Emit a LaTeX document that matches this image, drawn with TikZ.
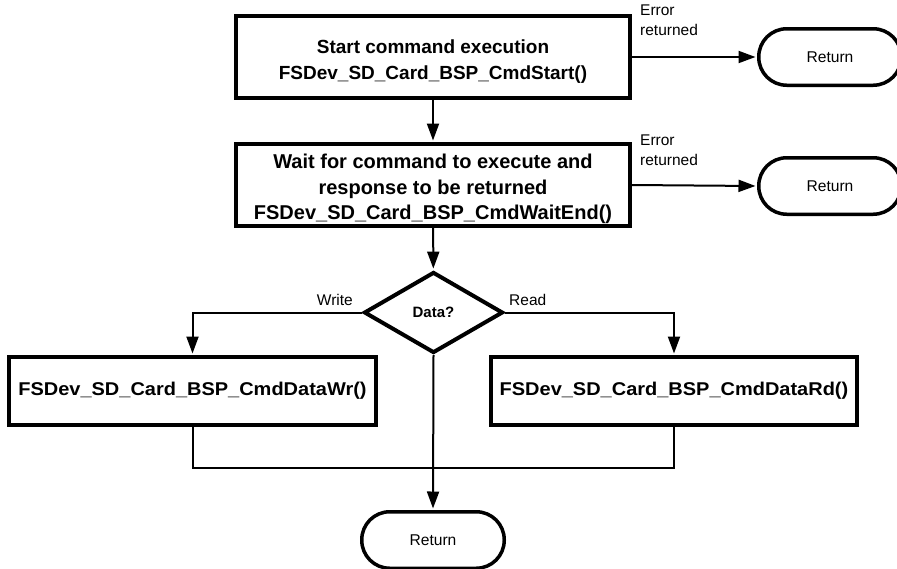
\documentclass[tikz,border=0pt]{standalone}
\usepackage{fontspec}
\setmainfont{Liberation Sans}
\newfontfamily\botfont[FakeStretch=1.08]{Liberation Sans}
\usetikzlibrary{shapes.geometric,arrows.meta}
\newcommand{\boxlines}[2]{\raisebox{#1}[\height][\depth]{\begin{tabular}{@{}c@{}}#2\end{tabular}}}
\begin{document}
\begin{tikzpicture}[x=1pt,y=-1pt,
  topbox/.style={draw, line width=4pt, rectangle, inner sep=0pt,
    minimum width=394pt, minimum height=82pt},
  botbox/.style={draw, line width=4pt, rectangle, inner sep=0pt, align=center,
    minimum height=68pt,
    font=\botfont\fontsize{18.5}{24}\selectfont\bfseries},
  decision/.style={draw, diamond, line width=4pt, inner sep=0pt,
    minimum width=139pt, minimum height=81pt,
    font=\fontsize{15}{18}\selectfont\bfseries},
  terminal/.style={draw, rectangle, rounded corners=28pt, line width=3.5pt,
    minimum width=142.5pt, minimum height=56.5pt, inner sep=0pt,
    font=\fontsize{15.6}{18}\selectfont},
  lbl/.style={inner sep=0pt, font=\fontsize{15.5}{20}\selectfont, align=left},
  conn/.style={line width=2pt},
  arr/.style={conn, -{Triangle[length=17pt,width=12pt]}, shorten >=1.5pt}
]
\useasboundingbox (0,0) rectangle (897,568);

\node[topbox, font=\fontsize{19}{26}\selectfont\bfseries] (b1) at (433,57)
  {\boxlines{-4pt}{Start command execution\\FSDev\_SD\_Card\_BSP\_CmdStart()}};
\node[topbox, font=\fontsize{20}{25.5}\selectfont\bfseries] (b2) at (433,185)
  {\boxlines{-4pt}{Wait for command to execute and\\response to be returned\\FSDev\_SD\_Card\_BSP\_CmdWaitEnd()}};
\node[decision] (d) at (433.5,312.5) {Data?};
\node[botbox, minimum width=367pt] (lb) at (192.5,391) {FSDev\_SD\_Card\_BSP\_CmdDataWr()};
\node[botbox, minimum width=366pt] (rb) at (674,391) {FSDev\_SD\_Card\_BSP\_CmdDataRd()};
\node[terminal] (r1) at (830,57) {Return};
\node[terminal] (r2) at (830,186) {Return};
\node[terminal] (r3) at (433,540) {Return};

\node[lbl, anchor=north west] (e1) at (640,5) {Error\\returned};
\node[lbl, anchor=north west] (e2) at (640,135) {Error\\returned};
\node[lbl, anchor=base east] (w) at (353,305) {Write};
\node[lbl, anchor=base west] (rd) at (509,305) {Read};

\coordinate (m) at (433,468);

\draw[arr] (b1) -- (b2);
\draw[arr] (b1.east) -- (r1.west);
\draw[arr] (b2.east) -- (r2.west);
\draw[arr] (b2) -- (d);
\draw[arr] (d.west) -| (lb.north);
\draw[arr] (d.east) -| (rb.north);
\draw[arr] (d.south) -- (r3.north);
\draw[conn] (lb.south) |- (m) -| (rb.south);
\end{tikzpicture}
\end{document}
